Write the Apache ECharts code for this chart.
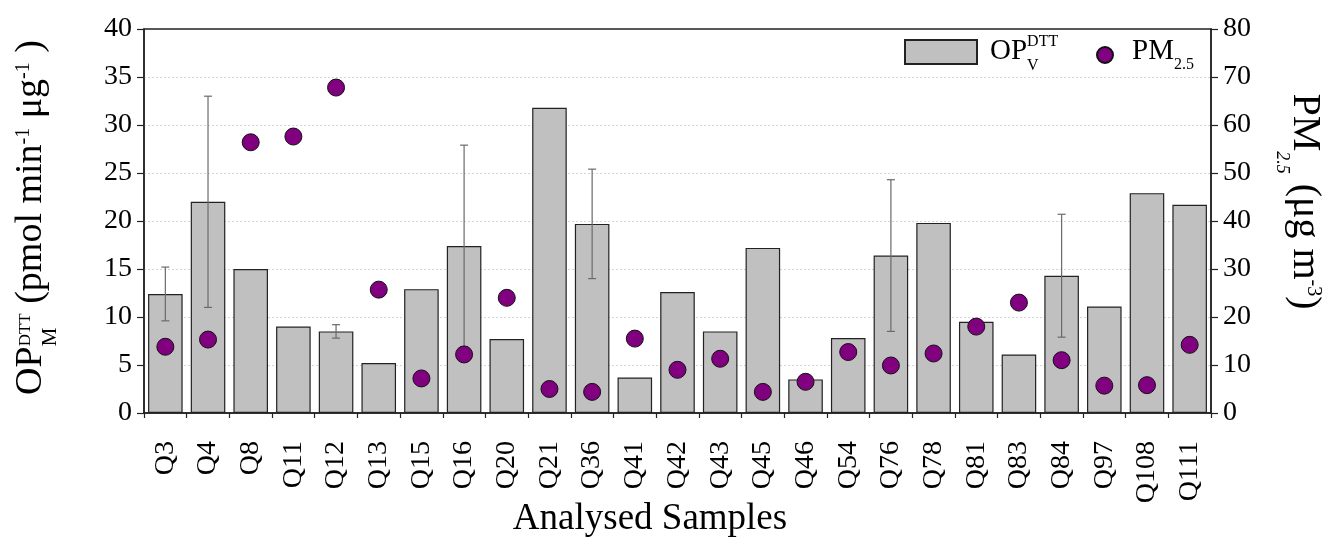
<!DOCTYPE html>
<html>
<head>
<meta charset="utf-8">
<script src="https://cdn.jsdelivr.net/npm/echarts@6/dist/echarts.min.js"></script>
<style>
html,body{margin:0;padding:0;background:#fff;}
#chart{width:1328px;height:540px;}
</style>
</head>
<body>
<div id="chart"></div>
<script>
const categories = ['Q3','Q4','Q8','Q11','Q12','Q13','Q15','Q16','Q20','Q21','Q36','Q41','Q42','Q43','Q45','Q46','Q54','Q76','Q78','Q81','Q83','Q84','Q97','Q108','Q111'];
const opvDTT = [12.4,22.0,15.0,9.0,8.5,5.2,12.9,17.4,7.7,31.8,19.7,3.7,12.6,8.5,17.2,3.5,7.8,16.4,19.8,9.5,6.1,14.3,11.1,22.9,21.7];
const opvErr = [2.8,11.0,null,null,0.7,null,null,10.5,null,null,5.7,null,null,null,null,null,null,7.9,null,null,null,6.4,null,null,null];
const pm25 = [13.8,15.3,56.4,57.6,67.8,25.7,7.2,12.2,24.0,5.0,4.4,15.5,9.0,11.3,4.4,6.5,12.7,9.9,12.4,18.0,23.0,11.0,5.7,5.8,14.2];
const leftTicks = {min:0, max:40, interval:5};
const rightTicks = {min:0, max:80, interval:10};

const FONT = '"Liberation Serif", "Times New Roman", serif';
const mctx = document.createElement('canvas').getContext('2d');
function fnt(size, italic){ return (italic ? 'italic ' : '') + size + 'px ' + FONT; }
function measure(t, size, italic){ mctx.font = fnt(size, italic); return mctx.measureText(t).width; }
const MID = 0.3375;
function runs(segs){
  let x = 0, prevStart = 0, prevW = 0;
  const items = [];
  segs.forEach(s => {
    const w = measure(s.t, s.size, s.italic);
    let sx;
    if (s.stack) { sx = prevStart; x = prevStart + Math.max(prevW, w); }
    else { sx = x; x = sx + w; }
    items.push({t:s.t, size:s.size, italic:s.italic, x:sx, dy:s.dy || 0});
    prevStart = sx; prevW = w;
  });
  return {items, width: x};
}
function textEl(t, size, italic, x, baseline){
  return {type:'text', x:x, y: baseline - MID*size, silent:true,
    style:{text:t, font:fnt(size, italic), fill:'#000', align:'left', verticalAlign:'middle', textAlign:'left', textVerticalAlign:'middle'}};
}
function rotatedTitle(segs, cx, cy, rotation){
  const r = runs(segs);
  const off = -r.width/2;
  return {type:'group', x:cx, y:cy, rotation:rotation, silent:true,
    children: r.items.map(it => textEl(it.t, it.size, it.italic, off + it.x, it.dy))};
}
function flatText(segs, x0, baseline){
  const r = runs(segs);
  return r.items.map(it => textEl(it.t, it.size, it.italic, x0 + it.x, baseline + it.dy));
}

const leftTitle = rotatedTitle([
  {t:'OP', size:38},
  {t:'DTT', size:17, dy:-13},
  {t:'M', size:21, dy:14, stack:true},
  {t:' (pmol min', size:38},
  {t:'-1', size:20, dy:-14},
  {t:' \u03bcg', size:38},
  {t:'-1', size:20, dy:-14},
  {t:' )', size:38}
], 44, 217.5, Math.PI/2);

const rightTitle = rotatedTitle([
  {t:'PM', size:40},
  {t:'2.5', size:18, dy:15, italic:true},
  {t:' (\u03bcg m', size:40},
  {t:'-3', size:20, dy:-15},
  {t:')', size:40}
], 1291, 201.5, -Math.PI/2);

const legendTexts = [].concat(
  flatText([{t:'OP', size:29},{t:'DTT', size:16, dy:-14},{t:'V', size:16, dy:10, stack:true}], 990, 61),
  flatText([{t:'PM', size:29},{t:'2.5', size:16, dy:9}], 1132, 61)
);

const errData = [];
opvErr.forEach((e, i) => { if (e != null) errData.push([i, opvDTT[i] - e, opvDTT[i] + e]); });

const chart = echarts.init(document.getElementById('chart'), null, {renderer:'canvas'});
const axisLineStyle = {color:'#222', width:1.5};
const labelStyle = {fontFamily:FONT, fontSize:28, color:'#000'};
chart.setOption({
  animation:false,
  backgroundColor:'#fff',
  grid:{left:144, right:117, top:29, bottom:127, containLabel:false, outerBoundsMode:'none',
        show:true, borderColor:'#222', borderWidth:1.5, backgroundColor:'transparent'},
  legend:[
    {data:[{name:'OPV', icon:'rect'}], left:904, top:39, itemWidth:72, itemHeight:24, padding:0, selectedMode:false, formatter:()=>'', textStyle:{fontSize:1}},
    {data:[{name:'PM25', icon:'circle'}], left:1096, top:46, itemWidth:16, itemHeight:16, padding:0, selectedMode:false, formatter:()=>'', textStyle:{fontSize:1}}
  ],
  xAxis:{
    type:'category', data:categories, boundaryGap:true,
    axisLine:{lineStyle:axisLineStyle},
    axisTick:{show:true, length:5, lineStyle:{color:'#222', width:1.2}},
    axisLabel:Object.assign({rotate:90, margin:28, interval:0}, labelStyle),
    name:'Analysed Samples', nameLocation:'middle', nameGap:88, nameMoveOverlap:false,
    nameTextStyle:{fontFamily:FONT, fontSize:37, color:'#000', padding:[0,55,0,0]}
  },
  yAxis:[
    {type:'value', min:leftTicks.min, max:leftTicks.max, interval:leftTicks.interval, position:'left',
     axisLine:{show:true, lineStyle:axisLineStyle},
     axisTick:{show:true, length:7, lineStyle:{color:'#222', width:1.2}},
     axisLabel:Object.assign({margin:12}, labelStyle),
     splitLine:{show:true, showMinLine:false, showMaxLine:false, lineStyle:{color:'#d4d4d4', type:[2,2], width:1}}},
    {type:'value', min:rightTicks.min, max:rightTicks.max, interval:rightTicks.interval, position:'right',
     axisLine:{show:true, lineStyle:axisLineStyle},
     axisTick:{show:true, length:7, lineStyle:{color:'#222', width:1.2}},
     axisLabel:Object.assign({margin:12}, labelStyle),
     splitLine:{show:false}}
  ],
  graphic:{elements:[leftTitle, rightTitle].concat(legendTexts)},
  series:[
    {name:'OPV', type:'bar', data:opvDTT, yAxisIndex:0, barCategoryGap:'19%',
     itemStyle:{color:'#c0c0c0', borderColor:'#222', borderWidth:1.2}, z:2},
    {name:'err', type:'custom', yAxisIndex:0, data:errData, encode:{x:0, y:[1,2]}, z:3,
     renderItem:function(params, api){
       const i = api.value(0), lo = api.value(1), hi = api.value(2);
       const t = api.coord([i, hi]), b = api.coord([i, lo]);
       const c = 4, st = {stroke:'#6a6a6a', lineWidth:1.2};
       return {type:'group', children:[
         {type:'line', shape:{x1:t[0], y1:t[1], x2:b[0], y2:b[1]}, style:st},
         {type:'line', shape:{x1:t[0]-c, y1:t[1], x2:t[0]+c, y2:t[1]}, style:st},
         {type:'line', shape:{x1:b[0]-c, y1:b[1], x2:b[0]+c, y2:b[1]}, style:st}
       ]};
     }},
    {name:'PM25', type:'scatter', data:pm25, yAxisIndex:1, symbol:'circle', symbolSize:17, z:4,
     itemStyle:{color:'#800080', borderColor:'#111', borderWidth:1, opacity:1}}
  ]
});
</script>
</body>
</html>
